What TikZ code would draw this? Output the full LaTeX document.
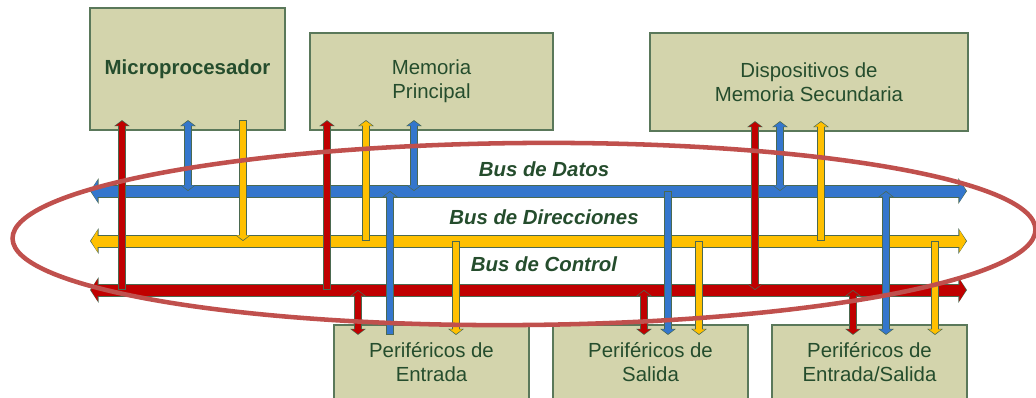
\documentclass[tikz,border=0pt]{standalone}
\usepackage{fontspec}
\setmainfont{Liberation Sans}
\usetikzlibrary{arrows.meta}

\definecolor{relleno}{RGB}{211,212,172}
\definecolor{borde}{RGB}{90,120,90}
\definecolor{textoverde}{RGB}{37,77,45}
\definecolor{rojobus}{RGB}{192,0,0}
\definecolor{azulbus}{RGB}{52,118,205}
\definecolor{amarillobus}{RGB}{255,192,0}
\definecolor{contorno}{RGB}{75,105,80}
\definecolor{elipse}{RGB}{192,80,77}

\tikzset{
  caja/.style={draw=borde, fill=relleno, line width=1.1pt, text=textoverde, font=\fontsize{15.3}{18}\selectfont, align=center, inner sep=0pt},
  etiqueta/.style={text=textoverde, font=\fontsize{15.3}{18}\selectfont\bfseries\itshape, inner sep=0pt},
  con fondo/.style={line width=6pt, draw=contorno, >={Triangle[width=11.5pt,length=4.5pt]}, shorten <=-8pt},
  con frente/.style={line width=4.5pt, >={Triangle[width=9.5pt,length=3.5pt]}, shorten <=-7.25pt, shorten >=0.75pt},
  bus fondo/.style={line width=9.75pt, draw=contorno, <->, >={Triangle[width=19pt,length=6.5pt]}},
  bus frente/.style={line width=8.25pt, <->, >={Triangle[width=16.5pt,length=5pt]}, shorten <=0.75pt, shorten >=0.75pt},
}

% conector: color, puntas, desde la caja, hasta el bus
\newcommand\conector[4]{\draw[con fondo,#2] #3 -- #4; \draw[con frente,#1,#2] #3 -- #4;}
% bus: color, nombre
\newcommand\lineabus[2]{\draw[bus fondo] (#2) -- (#2fin); \draw[bus frente,#1] (#2) -- (#2fin);}

\begin{document}
\begin{tikzpicture}[x=0.75pt,y=0.75pt,yscale=-1,xscale=1]
\useasboundingbox (0,0) rectangle (1036,397);
\clip (0,0) rectangle (1036,397);

%Shape: Rectangle
\node[caja, minimum width=146.25pt, minimum height=91.5pt] (mp) at (187.5,69) {\bfseries Microprocesador};
\node[caja, minimum width=182.25pt, minimum height=72.75pt] (mem) at (431.5,81.5) {Memoria\\Principal};
\node[caja, minimum width=238.5pt, minimum height=73.5pt] (sec) at (809,82) {Dispositivos de\\Memoria Secundaria};
\node[caja, minimum width=146.25pt, minimum height=55.5pt] (ent) at (431.5,362) {Periféricos de\\Entrada};
\node[caja, minimum width=146.25pt, minimum height=55.5pt] (sal) at (650.5,362) {Periféricos de\\Salida};
\node[caja, minimum width=146.25pt, minimum height=55.5pt] (es) at (869.5,362) {Periféricos de\\Entrada/Salida};

%Shape: Buses
\coordinate (datos) at (90,191);        \coordinate (datosfin) at (967,191);
\coordinate (direcciones) at (90,241);  \coordinate (direccionesfin) at (967,241);
\coordinate (control) at (90,290);      \coordinate (controlfin) at (967,290);
\lineabus{azulbus}{datos}
\lineabus{amarillobus}{direcciones}
\lineabus{rojobus}{control}

%Shape: Arrows Microprocesador
\conector{rojobus}{<-}{(mp.south -| 122,0)}{(122,0 |- control)}
\conector{azulbus}{<->}{(mp.south -| 188,0)}{(188,0 |- datos)}
\conector{amarillobus}{->}{(mp.south -| 243,0)}{(243,0 |- direcciones)}
%Shape: Arrows Memoria Principal
\conector{rojobus}{<-}{(mem.south -| 327,0)}{(327,0 |- control)}
\conector{amarillobus}{<-}{(mem.south -| 366,0)}{(366,0 |- direcciones)}
\conector{azulbus}{<->}{(mem.south -| 414,0)}{(414,0 |- datos)}
%Shape: Arrows Memoria Secundaria
\conector{rojobus}{<->}{(sec.south -| 755,0)}{(755,0 |- control)}
\conector{azulbus}{<->}{(sec.south -| 780,0)}{(780,0 |- datos)}
\conector{amarillobus}{<-}{(sec.south -| 821,0)}{(821,0 |- direcciones)}
%Shape: Arrows Perifericos de Entrada
\conector{rojobus}{<->}{(ent.north -| 358,0)}{(358,0 |- control)}
\conector{azulbus}{->}{(ent.north -| 390,0)}{(390,0 |- datos)}
\conector{amarillobus}{<-}{(ent.north -| 456,0)}{(456,0 |- direcciones)}
%Shape: Arrows Perifericos de Salida
\conector{rojobus}{<->}{(sal.north -| 644,0)}{(644,0 |- control)}
\conector{azulbus}{<-}{(sal.north -| 668,0)}{(668,0 |- datos)}
\conector{amarillobus}{<-}{(sal.north -| 699,0)}{(699,0 |- direcciones)}
%Shape: Arrows Perifericos de Entrada/Salida
\conector{rojobus}{<->}{(es.north -| 853,0)}{(853,0 |- control)}
\conector{azulbus}{<->}{(es.north -| 886,0)}{(886,0 |- datos)}
\conector{amarillobus}{<-}{(es.north -| 935,0)}{(935,0 |- direcciones)}

% Text Node
\node[etiqueta] (txtdatos) at (544,169) {Bus de Datos};
% Text Node
\node[etiqueta] (txtdirecciones) at (544,217) {Bus de Direcciones};
% Text Node
\node[etiqueta] (txtcontrol) at (544,264) {Bus de Control};

%Shape: Ellipse
\draw[elipse, line width=3.4pt, rotate around={-0.5:(524,234)}] (524,234) ellipse [x radius=511.5, y radius=91];

\end{tikzpicture}
\end{document}
